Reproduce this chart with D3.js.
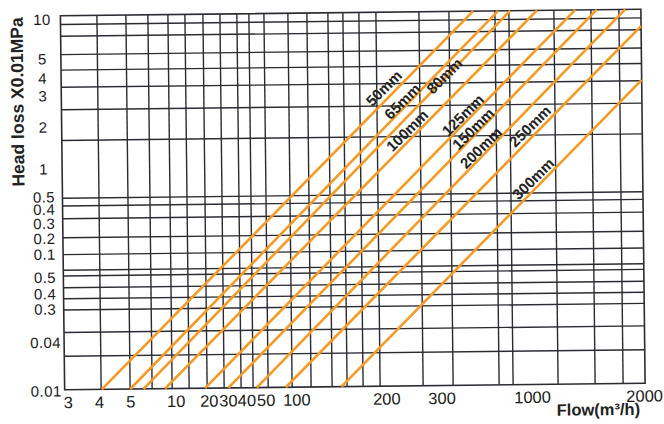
<!DOCTYPE html>
<html><head><meta charset="utf-8">
<script src="https://cdn.jsdelivr.net/npm/d3@7"></script>
<style>
html,body{margin:0;padding:0;background:#fff;}
svg{display:block;font-family:"Liberation Sans",Arial,sans-serif;}
</style></head><body>
<svg id="c" width="664" height="424"></svg>
<script>
// ---- data (nomogram grid units: 0..100 across / up the plot) ----
const xTickLabels = ["3","4","5","10","20","30","40","50","100","200","300","1000","2000"];
const xTickAt     = [0.5, 5.9, 11.3, 19.1, 24.8, 28.1, 31.3, 34.6, 39.9, 55.4, 64.9, 80.5, 99.8];
const yTickLabels = ["10","5","4","3","2","1","0.5","0.4","0.3","0.2","0.1","0.5","0.4","0.3","0.04","0.01"];
const yTickAt     = [99.2, 88.6, 83.5, 78.7, 70.4, 59.2, 51.7, 48.4, 44.6, 40.6, 36.4, 30.2, 25.8, 21.7, 12.8, -0.2];
const xGrid = [6.29, 11.28, 15.07, 18.52, 21.45, 24.55, 27.48, 30.40, 32.47, 35.06, 39.19, 42.46, 46.08,
               48.66, 51.42, 54.35, 61.76, 66.93, 74.85, 77.26, 85.01, 91.39, 96.21];
const yGrid = [97.67, 94.52, 89.63, 85.48, 80.88, 74.89, 66.66, 51.20, 49.14, 45.75, 40.64, 36.15,
               31.95, 30.43, 27.27, 24.33, 21.34, 15.32, 8.96];
const pipeSizes = ["50mm","65mm","80mm","100mm","125mm","150mm","200mm","250mm","300mm"];
const pipeFrom  = [[6.4,0],[11.3,0],[13.6,0],[17.3,0],[24.2,0],[28.2,0],[33.1,0],[38.1,0],[47.7,0]];
const pipeTo    = [[71.1,100],[75.4,100],[77.5,100],[82.1,100],[88.7,100],[92.4,100],[97.3,100],[100,95.5],[100,81.1]];
const pipeLabelAt = [79.7, 76.1, 82.8, 68.3, 72.3, 68.6, 63.5, 69.1, 55.0];
const pipeLabelShift = [-14, -8, -3, -12, -10, -8, -10, -13, -12];

// ---- layout ----
const L = 62.5, R = 643, T = 12.5, B = 386.5;
const svg = d3.select("#c");
svg.append("rect").attr("width",664).attr("height",424).attr("fill","#fff");
const g = svg.append("g").attr("transform","rotate(-0.65,352,199)");

const x = d3.scaleLinear().domain([0,100]).range([L,R]);
const y = d3.scaleLinear().domain([0,100]).range([B,T]);

const gridColor = "#2b2b33";
g.append("g").selectAll("line").data(xGrid).join("line")
  .attr("x1",d=>x(d)).attr("x2",d=>x(d)).attr("y1",y(0)).attr("y2",y(100))
  .attr("stroke",gridColor).attr("stroke-width",1.4);
g.append("g").selectAll("line").data(yGrid).join("line")
  .attr("x1",x(0)).attr("x2",x(100)).attr("y1",d=>y(d)).attr("y2",d=>y(d))
  .attr("stroke",gridColor).attr("stroke-width",1.4);
g.append("rect").attr("x",x(0)).attr("y",y(100)).attr("width",x(100)-x(0)).attr("height",y(0)-y(100))
  .attr("fill","none").attr("stroke",gridColor).attr("stroke-width",1.6);

// pipe lines
g.append("g").selectAll("line").data(pipeSizes).join("line")
  .attr("x1",(d,i)=>x(pipeFrom[i][0])).attr("y1",(d,i)=>y(pipeFrom[i][1]))
  .attr("x2",(d,i)=>x(pipeTo[i][0])).attr("y2",(d,i)=>y(pipeTo[i][1]))
  .attr("stroke","#f59a23").attr("stroke-width",2.6);

// pipe labels
g.append("g").selectAll("text").data(pipeSizes).join("text")
  .attr("transform",(d,i)=>{
    const a = pipeFrom[i], b = pipeTo[i];
    const t = (pipeLabelAt[i]-a[1])/(b[1]-a[1]);
    const px = x(a[0]+t*(b[0]-a[0])) + pipeLabelShift[i];
    const py = y(pipeLabelAt[i]);
    return `translate(${px},${py}) rotate(-44)`;
  })
  .attr("text-anchor","middle").attr("dominant-baseline","central")
  .attr("font-size",15).attr("font-weight","bold").attr("fill","#222")
  .text(d=>d);

// x axis
const xa = g.append("g").attr("transform",`translate(0,405)`)
  .call(d3.axisBottom(x).tickValues(xTickAt).tickFormat((d,i)=>xTickLabels[i]).tickSize(0));
xa.select(".domain").remove();
xa.selectAll("text").attr("y",0).attr("dy",0).attr("font-size",16.5)
  .attr("font-family","'Liberation Sans',Arial,sans-serif").attr("fill","#1a1a1a");

// y axis
const ya = g.append("g").attr("transform",`translate(44,0)`)
  .call(d3.axisLeft(y).tickValues(yTickAt).tickFormat((d,i)=>yTickLabels[i]).tickSize(0));
ya.select(".domain").remove();
ya.selectAll("text").attr("x",0).attr("dy","0.36em").attr("text-anchor","middle").attr("font-size",15)
  .attr("letter-spacing","0.4px")
  .attr("font-family","'Liberation Sans',Arial,sans-serif").attr("fill","#1a1a1a");

// titles
g.append("text").attr("x",596).attr("y",418).attr("text-anchor","middle")
  .attr("font-size",16.5).attr("font-weight","bold").attr("fill","#222").text("Flow(m³/h)");
g.append("text").attr("transform","translate(18.6,98.2) rotate(-90)")
  .attr("text-anchor","middle").attr("dominant-baseline","central")
  .attr("font-size",17.5).attr("font-weight","bold").attr("fill","#222").text("Head loss X0.01MPa");
</script>
</body></html>
